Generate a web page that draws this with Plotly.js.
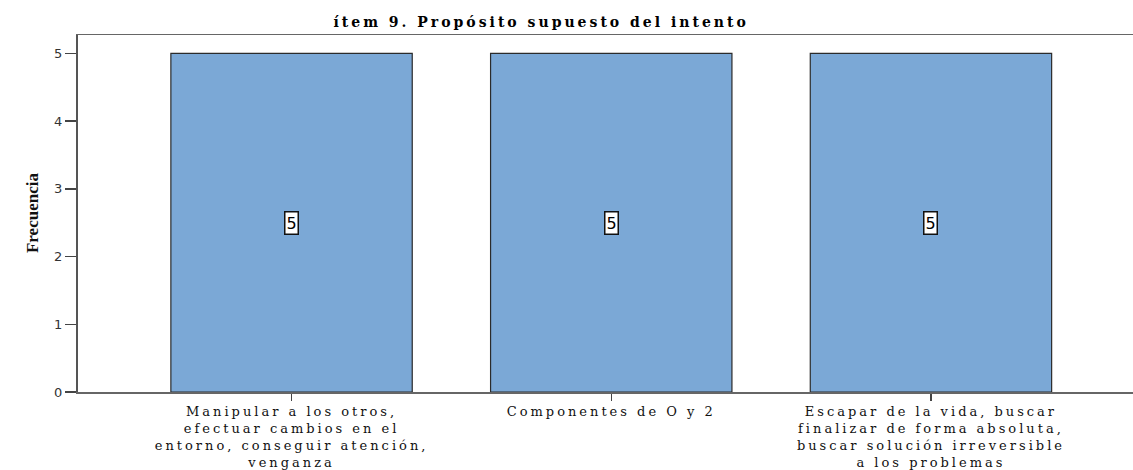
<!DOCTYPE html>
<html>
<head>
<meta charset="utf-8">
<script src="https://cdn.plot.ly/plotly-3.0.1.min.js"></script>
<style>
html,body{margin:0;padding:0;background:#fff;}
#chart{width:1133px;height:470px;}
#chart .xtick text{letter-spacing:3px;}
#chart .gtitle{letter-spacing:3px;}
</style>
</head>
<body>
<div id="chart"></div>
<script>
const categories = [
  "Manipular a los otros,<br>efectuar cambios en el<br>entorno, conseguir atención,<br>venganza",
  "Componentes de O y 2",
  "Escapar de la vida, buscar<br>finalizar de forma absoluta,<br>buscar solución irreversible<br>a los problemas"
];
const frequencies = [5, 5, 5];
const yTicks = [0, 1, 2, 3, 4, 5];
const chartTitle = "ítem 9. Propósito supuesto del intento";
const yTitle = "Frecuencia";

const xIdx = categories.map((_, i) => i);

const trace = {
  type: "bar",
  x: xIdx,
  y: frequencies,
  width: 0.755,
  marker: { color: "#7ba8d6", line: { color: "#2b2b2b", width: 1.2 } },
  hoverinfo: "none"
};

const annotations = xIdx.map((xi, i) => ({
  x: xi, y: frequencies[i] / 2, xref: "x", yref: "y",
  text: String(frequencies[i]), showarrow: false,
  bgcolor: "#ffffff", bordercolor: "#111", borderwidth: 1.5, borderpad: 1,
  font: { family: "DejaVu Sans, sans-serif", size: 16, color: "#000" }
}));

annotations.push({
  xref: "paper", yref: "paper", x: -0.054, y: 0.5,
  text: "<b>" + yTitle + "</b>", textangle: -90, showarrow: false,
  font: { family: "Liberation Serif, serif", size: 17, color: "#111" }
});

const layout = {
  width: 1133, height: 470,
  margin: { l: 78, r: 0, t: 35, b: 78 },
  paper_bgcolor: "#fff", plot_bgcolor: "#fff",
  title: {
    text: "<b>" + chartTitle + "</b>",
    x: 0.439, xref: "paper", xanchor: "center", y: 0.953, yanchor: "middle",
    font: { family: "DejaVu Serif, serif", size: 14, color: "#000" }
  },
  showlegend: false,
  xaxis: {
    range: [-0.668, 2.632],
    tickmode: "array", tickvals: xIdx, ticktext: categories,
    ticks: "outside", ticklen: 7, tickcolor: "#444", tickwidth: 1.5,
    showline: true, linecolor: "#666", linewidth: 1.5, mirror: true,
    showgrid: false, zeroline: false,
    tickfont: { family: "DejaVu Serif, serif", size: 13, color: "#111" },
    fixedrange: true
  },
  yaxis: {
    range: [0, 5.27],
    tickmode: "array", tickvals: yTicks,
    ticks: "outside", ticklen: 11, tickcolor: "#444", tickwidth: 1.5,
    ticklabelstandoff: 0,
    showline: true, linecolor: "#555", linewidth: 2, mirror: true,
    showgrid: false, zeroline: false,
    tickfont: { family: "DejaVu Sans, sans-serif", size: 13, color: "#333" },
    fixedrange: true
  },
  annotations: annotations
};

Plotly.newPlot("chart", [trace], layout, { displayModeBar: false, staticPlot: true });
</script>
</body>
</html>
